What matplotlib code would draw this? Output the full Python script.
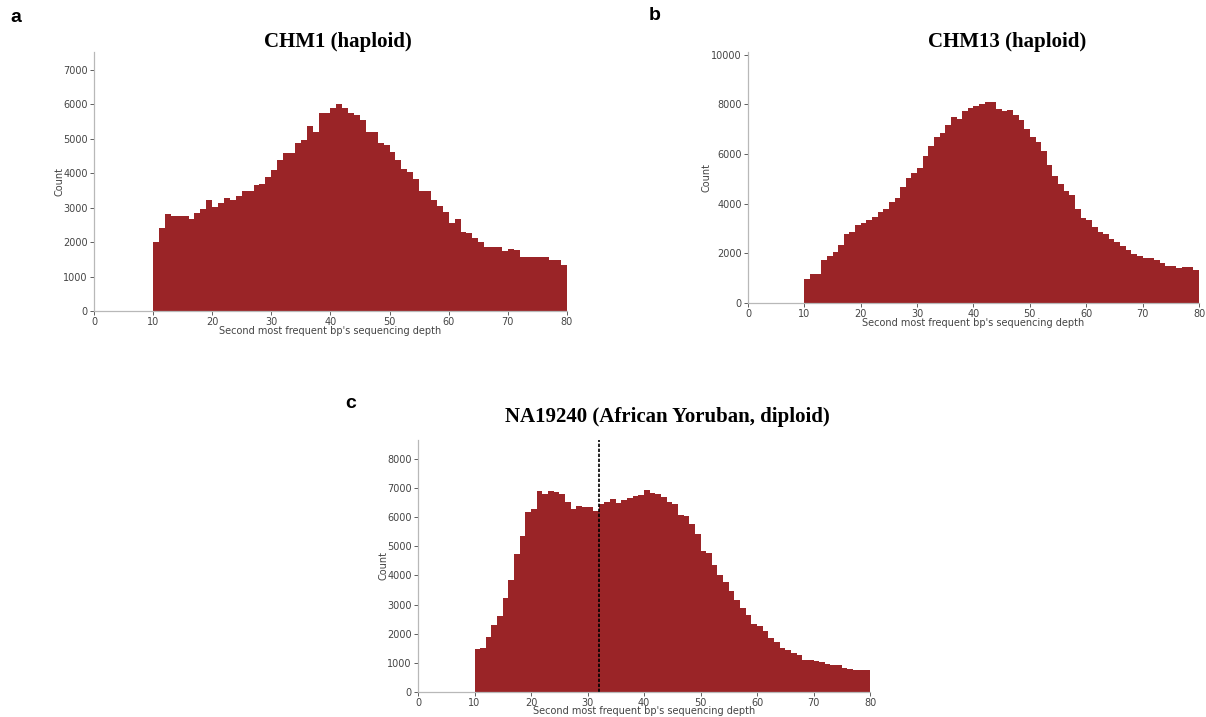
import matplotlib
matplotlib.use("Agg")
import matplotlib.pyplot as plt
import numpy as np

# bin left edges: 10..79, width 1
depth = np.arange(10, 80)

chm1 = [2000, 2400, 2830, 2750, 2750, 2750, 2680, 2850, 2960, 3220,
        3020, 3130, 3280, 3230, 3350, 3480, 3480, 3650, 3700, 3880,
        4110, 4380, 4590, 4590, 4880, 4960, 5360, 5200, 5740, 5740,
        5890, 6020, 5910, 5760, 5700, 5540, 5190, 5190, 4880, 4810,
        4620, 4390, 4120, 4030, 3820, 3480, 3500, 3210, 3050, 2890,
        2560, 2670, 2300, 2260, 2110, 2010, 1870, 1870, 1860, 1730,
        1790, 1770, 1580, 1580, 1580, 1560, 1560, 1470, 1470, 1340]

chm13 = [970, 1160, 1160, 1750, 1910, 2070, 2330, 2800, 2870, 3160,
         3210, 3330, 3450, 3680, 3790, 4080, 4240, 4690, 5050, 5230,
         5450, 5920, 6310, 6680, 6870, 7160, 7510, 7430, 7750, 7870,
         7920, 8010, 8080, 8090, 7810, 7720, 7760, 7570, 7360, 7000,
         6670, 6470, 6120, 5550, 5130, 4810, 4520, 4350, 3800, 3440,
         3360, 3080, 2880, 2790, 2570, 2470, 2280, 2130, 1960, 1880,
         1830, 1800, 1750, 1610, 1510, 1510, 1430, 1470, 1450, 1350]

na19240 = [1490, 1510, 1890, 2290, 2620, 3210, 3860, 4720, 5350, 6190,
           6280, 6900, 6780, 6910, 6870, 6790, 6510, 6270, 6400, 6360,
           6350, 6220, 6470, 6510, 6630, 6490, 6590, 6670, 6720, 6760,
           6920, 6840, 6780, 6710, 6510, 6450, 6060, 6040, 5760, 5430,
           4830, 4780, 4350, 4030, 3770, 3480, 3170, 2890, 2650, 2350,
           2280, 2110, 1840, 1730, 1520, 1450, 1350, 1270, 1110, 1110,
           1050, 1030, 970, 930, 930, 840, 800, 760, 760, 740]

titles = ["CHM1 (haploid)", "CHM13 (haploid)", "NA19240 (African Yoruban, diploid)"]
letters = ["a", "b", "c"]
ystep = [1000, 2000, 1000]
cutoff_c = 32

bar_color = "#9a2427"
xlab = "Second most frequent bp's sequencing depth"

fig = plt.figure(figsize=(12.06, 7.17), dpi=100)

# axes rectangles in figure fractions
rects = [[0.0779, 0.5663, 0.3922, 0.3612],
         [0.6202, 0.5774, 0.3740, 0.3500],
         [0.3466, 0.0349, 0.3748, 0.3514]]
title_pos = [(338, 42), (1007, 42), (667, 417)]
letter_pos = [(16, 18), (655, 15), (351, 404)]
ylab_x = [-0.063, -0.080, -0.066]
xlab_y = [-0.058, -0.060, -0.056]

for i, counts in enumerate([chm1, chm13, na19240]):
    ax = fig.add_axes(rects[i])
    ax.bar(depth, counts, width=1, align="edge", color=bar_color, linewidth=0)
    ax.set_xlim(0, 80)
    ax.set_ylim(0, max(counts) * 1.25)
    ax.set_xticks(range(0, 81, 10))
    ax.set_yticks(range(0, int(max(counts) * 1.25) + 1, ystep[i]))
    for s in ["top", "right"]:
        ax.spines[s].set_visible(False)
    for s in ["left", "bottom"]:
        ax.spines[s].set_color("#b8b8b8")
        ax.spines[s].set_linewidth(0.9)
    if i == 0:
        ax.spines["left"].set_linestyle((0, (2, 1)))
    ax.tick_params(labelsize=7, colors="#444444", length=3, width=0.6, pad=1.5)
    ax.set_ylabel("Count", fontsize=7, color="#444444")
    ax.set_xlabel(xlab, fontsize=7, color="#444444")
    ax.yaxis.set_label_coords(ylab_x[i], 0.5)
    ax.xaxis.set_label_coords(0.5, xlab_y[i])
    if i == 2:
        ax.axvline(cutoff_c, color="black", linestyle="--", linewidth=1.2, dashes=(2, 1))

    tx, ty = title_pos[i]
    fig.text(tx / 1206, 1 - ty / 717, titles[i], ha="center", va="center",
             fontsize=15, fontweight="bold", family="Liberation Serif")
    lx, ly = letter_pos[i]
    fig.text(lx / 1206, 1 - ly / 717, letters[i], ha="center", va="center",
             fontsize=14, fontweight="bold", family="Liberation Sans")

fig.savefig("out.png", dpi=100)
